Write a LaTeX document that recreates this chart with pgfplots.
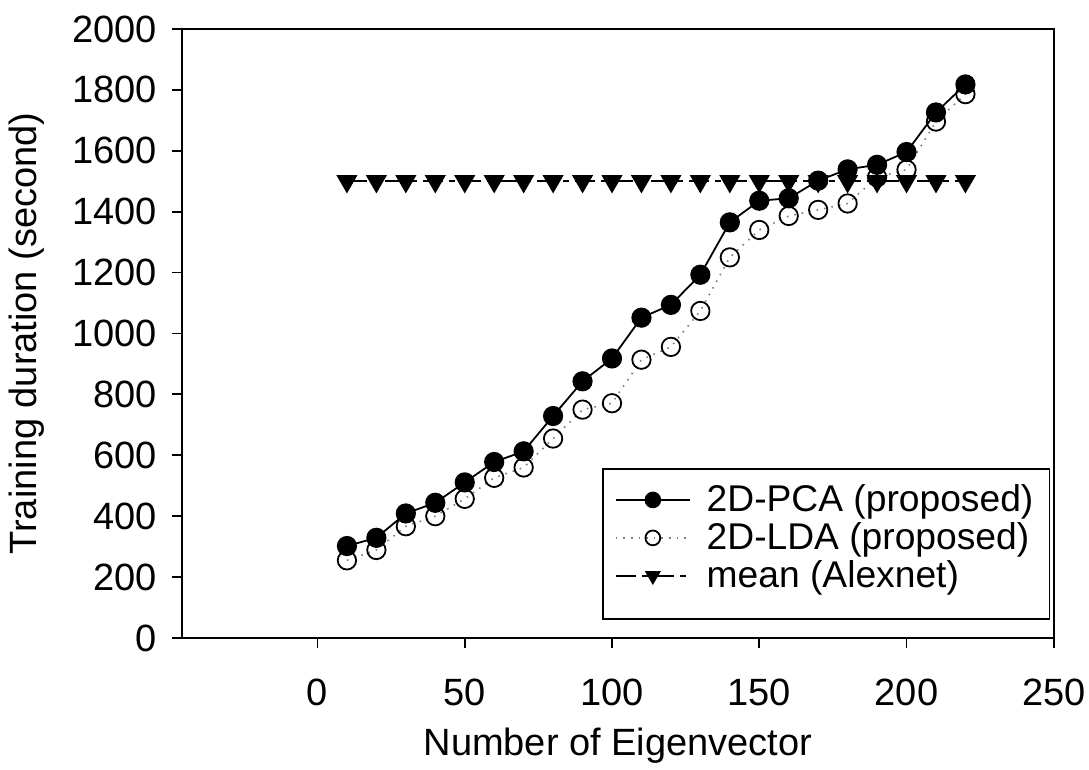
\documentclass[border=0pt]{standalone}
\usepackage{fontspec}
\setmainfont{Liberation Sans}
\usepackage{pgfplots}
\pgfplotsset{compat=1.18}
\begin{document}
\begin{tikzpicture}
\begin{axis}[
  scale only axis,
  width=435.9pt, height=304.5pt,
  xmin=-46, xmax=250, ymin=0, ymax=2000,
  xtick={0,50,100,150,200,250},
  ytick={0,200,...,2000},
  tick align=outside,
  major tick length=5pt,
  axis line style={line width=0.9pt},
  every tick/.style={black, line width=0.9pt},
  xtick pos=bottom, ytick pos=left,
  /pgf/number format/assume math mode=true,
  /pgf/number format/set thousands separator={},
  ticklabel style={font=\fontsize{19}{20}\selectfont},
  label style={font=\fontsize{19}{20}\selectfont},
  xticklabel style={yshift=-12pt},
  yticklabel style={xshift=-4pt},
  xlabel={Number of Eigenvector},
  ylabel={Training duration (second)},
  xlabel style={yshift=-4pt},
  ylabel style={yshift=7pt},
  legend style={at={(0.996,0.03)}, anchor=south east, draw=black, line width=0.9pt,
    font=\fontsize{18.6}{22}\selectfont, row sep=0pt, column sep=6pt,
    inner xsep=6pt, inner ysep=6pt,
    nodes={inner sep=2pt}},
  legend cell align=left,
  legend image code/.code={
    \draw[mark repeat=2,mark phase=2,#1, mark size=3.7pt] plot coordinates {(0cm,0cm) (0.65cm,0cm) (1.3cm,0cm)};},
]
\addplot[black, line width=0.9pt, mark=*, mark size=4.6pt, mark options={solid, fill=black}]
coordinates {(10,302) (20,329) (30,409) (40,444) (50,511) (60,578) (70,613) (80,729) (90,843) (100,918)
(110,1052) (120,1094) (130,1193) (140,1365) (150,1436) (160,1444) (170,1502) (180,1539) (190,1554) (200,1596) (210,1726) (220,1818)};
\addlegendentry{2D-PCA (proposed)}
\addplot[gray, line width=0.8pt, dash pattern=on 0.8pt off 3pt, mark=o, mark size=4.6pt, mark options={solid, black, fill=white, line width=0.9pt}]
coordinates {(10,255) (20,289) (30,367) (40,400) (50,457) (60,526) (70,560) (80,655) (90,750) (100,771)
(110,914) (120,956) (130,1074) (140,1250) (150,1340) (160,1386) (170,1406) (180,1427) (190,1513) (200,1538) (210,1696) (220,1786)};
\addlegendentry{2D-LDA (proposed)}
\addplot[black, line width=0.9pt, dash pattern=on 10pt off 3pt on 3pt off 3pt, mark=triangle*, mark size=5.2pt, mark options={solid, fill=black, rotate=180}]
coordinates {(10,1500) (20,1500) (30,1500) (40,1500) (50,1500) (60,1500) (70,1500) (80,1500) (90,1500) (100,1500)
(110,1500) (120,1500) (130,1500) (140,1500) (150,1500) (160,1500) (170,1500) (180,1500) (190,1500) (200,1500) (210,1500) (220,1500)};
\addlegendentry{mean (Alexnet)}
\addlegendimage{empty legend}
\addlegendentry[text height=0pt, text depth=6pt, inner sep=0pt]{}
\end{axis}
\pgfresetboundingbox
\path ([shift={(-91pt,-66pt)}]current axis.south west) rectangle ([shift={(453.5pt,319pt)}]current axis.south west);
\end{tikzpicture}
\end{document}
